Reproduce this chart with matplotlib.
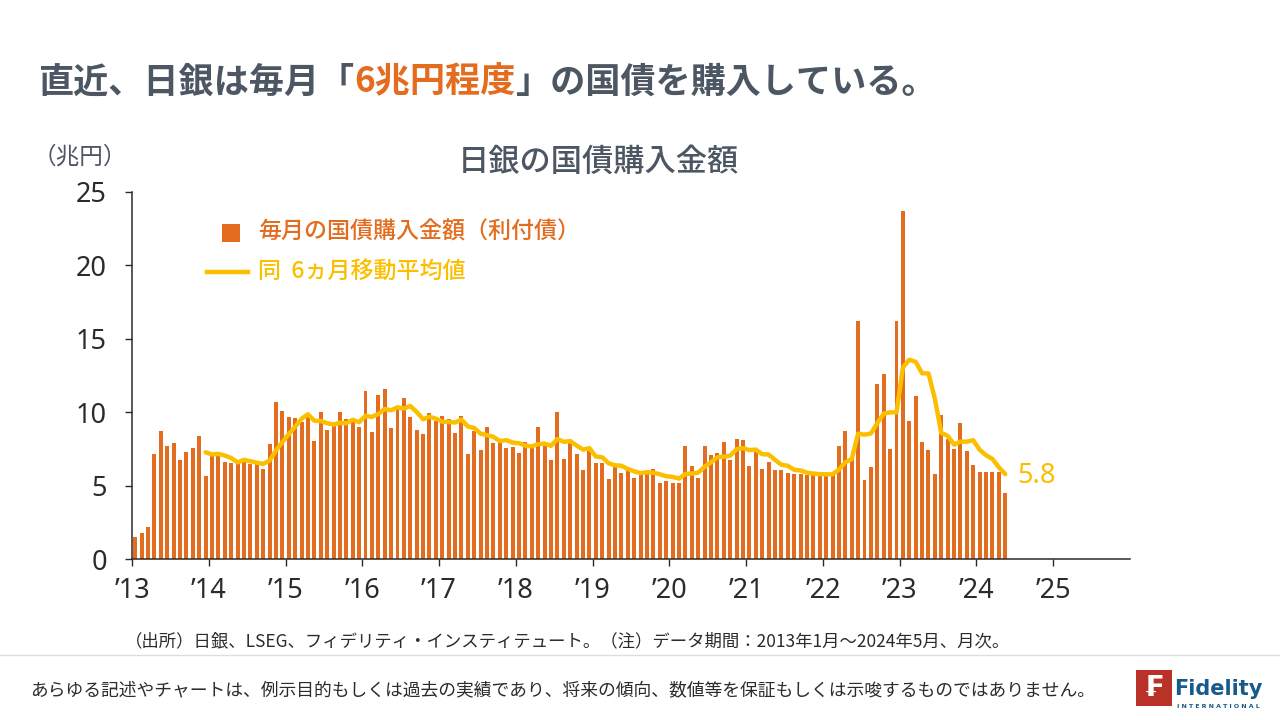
import matplotlib
matplotlib.use("Agg")
import matplotlib.pyplot as plt
from matplotlib.patches import Rectangle
from matplotlib.lines import Line2D

plt.rcParams['font.family'] = ['Noto Sans CJK JP', 'DejaVu Sans']

# Monthly JGB purchases by BOJ (trillion yen), Jan 2013 - May 2024
purchases = [
    1.52, 1.77, 2.20, 7.15, 8.72, 7.70, 7.92, 6.77, 7.31, 7.56, 8.38, 5.65,       # 2013
    7.04, 7.04, 6.63, 6.56, 6.56, 6.65, 6.49, 6.49, 6.15, 7.86, 10.70, 10.10,     # 2014
    9.70, 9.60, 9.33, 9.70, 8.06, 10.00, 8.81, 9.08, 10.00, 9.54, 9.47, 8.99,     # 2015
    11.44, 8.65, 11.17, 11.58, 8.92, 10.20, 10.97, 9.67, 8.79, 8.54, 9.95, 9.42,  # 2016
    9.74, 9.54, 8.61, 9.74, 7.15, 8.72, 7.42, 8.99, 7.92, 7.99, 7.58, 7.65,       # 2017
    7.22, 7.97, 7.58, 8.99, 7.74, 6.74, 10.00, 6.81, 7.92, 7.15, 6.08, 7.36,      # 2018
    6.54, 6.54, 5.47, 6.31, 5.86, 6.08, 5.54, 5.81, 5.86, 6.13, 5.18, 5.34,       # 2019
    5.20, 5.18, 7.70, 6.33, 5.54, 7.70, 7.08, 7.22, 7.97, 6.74, 8.17, 8.10,       # 2020
    6.33, 7.36, 6.13, 6.60, 6.06, 6.06, 5.86, 5.79, 5.79, 5.72, 5.72, 5.80,       # 2021
    5.80, 5.80, 7.70, 8.73, 6.97, 16.21, 5.38, 6.29, 11.92, 12.63, 7.52, 16.21,   # 2022
    23.70, 9.42, 11.10, 7.97, 7.45, 5.81, 9.81, 8.17, 7.52, 9.26, 7.36, 6.40,     # 2023
    5.95, 5.95, 5.95, 5.90, 4.50,                                                 # 2024
]

# 6-month moving average line, Dec 2013 - May 2024
ma6 = [
    7.27,
    7.12, 7.16, 7.05, 6.88, 6.58, 6.75, 6.66, 6.56, 6.48, 6.70, 7.39, 7.97,
    8.50, 9.02, 9.55, 9.86, 9.42, 9.40, 9.25, 9.16, 9.28, 9.25, 9.48, 9.32,
    9.75, 9.68, 9.88, 10.22, 10.13, 10.33, 10.25, 10.42, 10.02, 9.52, 9.69, 9.56,
    9.35, 9.33, 9.30, 9.50, 9.03, 8.92, 8.53, 8.44, 8.32, 8.03, 8.10, 7.93,
    7.89, 7.72, 7.67, 7.83, 7.86, 7.71, 8.17, 7.98, 8.03, 7.73, 7.45, 7.55,
    6.98, 6.93, 6.52, 6.38, 6.35, 6.13, 5.97, 5.85, 5.91, 5.88, 5.77, 5.64,
    5.59, 5.48, 5.79, 5.82, 5.88, 6.28, 6.59, 6.93, 6.97, 7.04, 7.48, 7.55,
    7.42, 7.45, 7.14, 7.12, 6.76, 6.42, 6.35, 6.08, 6.03, 5.88, 5.82, 5.78,
    5.77, 5.77, 6.09, 6.59, 6.80, 8.54, 8.47, 8.55, 9.25, 9.90, 9.99, 9.99,
    13.05, 13.57, 13.43, 12.65, 12.64, 10.91, 8.59, 8.39, 7.79, 8.00, 7.99, 8.09,
    7.44, 7.07, 6.81, 6.25, 5.78,
]

start_year = 2013
tick_years = list(range(2013, 2026))
tick_labels = ["’13", "’14", "’15", "’16", "’17", "’18", "’19",
               "’20", "’21", "’22", "’23", "’24", "’25"]

GRAY = '#4d5763'
ORANGE = '#e36c1e'
GOLD = '#fbbf00'
DARK = '#2b2b2b'

W, H = 1280, 720
fig = plt.figure(figsize=(12.8, 7.2), dpi=100)
fig.patch.set_facecolor('white')

ax = fig.add_axes([132 / W, 1 - 559 / H, (1130 - 132) / W, (559 - 192) / H])

x_bar = [start_year + (i + 0.5) / 12 for i in range(len(purchases))]
x_ma = x_bar[len(purchases) - len(ma6):]

ax.bar(x_bar, purchases, width=0.62 / 12, color=ORANGE, edgecolor='none', zorder=2)
ax.plot(x_ma, ma6, color=GOLD, lw=3.2, solid_capstyle='round', solid_joinstyle='round', zorder=3)

ax.annotate(f"{ma6[-1]:.1f}", xy=(x_ma[-1], ma6[-1]), xytext=(9, -1.5),
            textcoords='offset points', ha='left', va='center',
            fontsize=19.5, color=GOLD, family=['Noto Sans', 'DejaVu Sans'])

ax.set_xlim(2013, 2026)
ax.set_ylim(0, 25)
ax.set_yticks([0, 5, 10, 15, 20, 25])
ax.set_xticks(tick_years)
ax.set_xticklabels(tick_labels)

for s in ['top', 'right']:
    ax.spines[s].set_visible(False)
for s in ['left', 'bottom']:
    ax.spines[s].set_color(DARK)
    ax.spines[s].set_linewidth(1.1)

ax.tick_params(axis='both', direction='out', length=5, width=1.0, color=DARK,
               labelsize=19.5, labelcolor=DARK, labelfontfamily=['Noto Sans', 'DejaVu Sans'])
ax.tick_params(axis='y', pad=13)
ax.tick_params(axis='x', pad=8)

# main title with highlighted part
renderer = fig.canvas.get_renderer()
x0 = 38
for s, c in [("直近、日銀は毎月「", GRAY), ("6兆円程度", ORANGE), ("」の国債を購入している。", GRAY)]:
    t = fig.text(x0 / W, 1 - 82 / H, s, color=c, fontsize=25.3, fontweight='bold',
                 ha='left', va='center')
    x0 = t.get_window_extent(renderer).x1

# chart title and unit
fig.text(598 / W, 1 - 162 / H, "日銀の国債購入金額", color=GRAY, fontsize=22.5,
         fontweight='medium', ha='center', va='center')
fig.text(80 / W, 1 - 157 / H, "（兆円）", color=GRAY, fontsize=17, ha='center', va='center')

# legend
fig.add_artist(Rectangle((222 / W, 1 - 242 / H), 18 / W, 18 / H, transform=fig.transFigure,
                         facecolor=ORANGE, edgecolor='none'))
fig.text(258 / W, 1 - 232 / H, "毎月の国債購入金額（利付債）", color=ORANGE, fontsize=16.6,
         fontweight='medium', ha='left', va='center')
fig.add_artist(Line2D([207 / W, 248 / W], [1 - 272 / H, 1 - 272 / H], transform=fig.transFigure,
                      color=GOLD, lw=3.2))
fig.text(258 / W, 1 - 272 / H, "同  6ヵ月移動平均値", color=GOLD, fontsize=16.6,
         fontweight='medium', ha='left', va='center')

# source note
fig.text(125 / W, 1 - 641 / H,
         "（出所）日銀、LSEG、フィデリティ・インスティテュート。（注）データ期間：2013年1月～2024年5月、月次。",
         color=DARK, fontsize=12.5, ha='left', va='center')

# footer
fig.add_artist(Line2D([0, 1], [1 - 655 / H, 1 - 655 / H], transform=fig.transFigure,
                      color='#dedede', lw=1))
fig.text(30 / W, 1 - 690 / H,
         "あらゆる記述やチャートは、例示目的もしくは過去の実績であり、将来の傾向、数値等を保証もしくは示唆するものではありません。",
         color=DARK, fontsize=12.8, ha='left', va='center')

# logo
fig.add_artist(Rectangle((1136 / W, 1 - 706 / H), 36 / W, 36 / H, transform=fig.transFigure,
                         facecolor='#b83228', edgecolor='none'))
fig.text(1154 / W, 1 - 688 / H, "₣", color='white', fontsize=20, fontweight='bold',
         family=['DejaVu Sans'], ha='center', va='center')
fig.text(1218 / W, 1 - 689 / H, "Fidelity", color='#175a8c', fontsize=15, fontweight='bold',
         family=['DejaVu Sans'], ha='center', va='center')
fig.text(1218 / W, 1 - 706 / H, "I N T E R N A T I O N A L", color='#175a8c', fontsize=4.5,
         fontweight='bold', family=['DejaVu Sans'], ha='center', va='center')

fig.savefig("out.png", dpi=100)
